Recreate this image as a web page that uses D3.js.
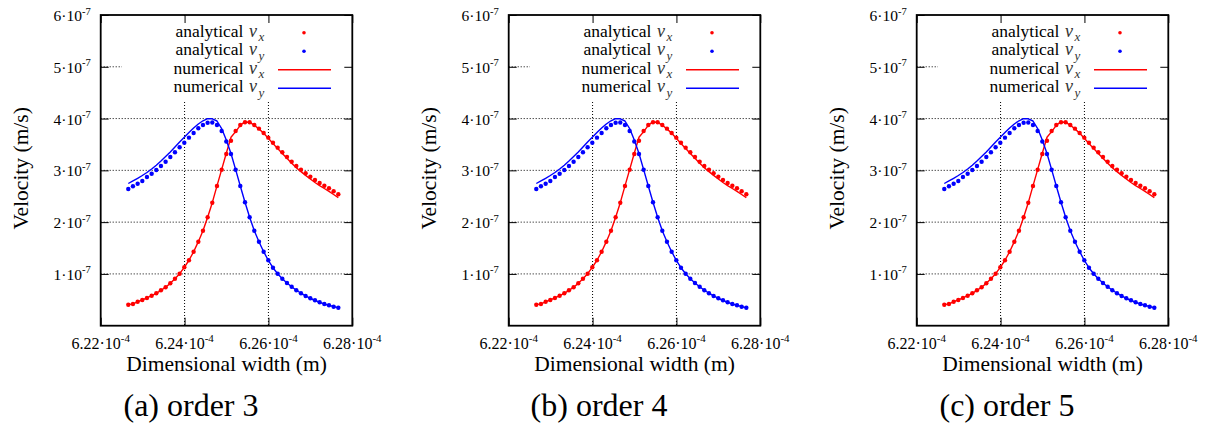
<!DOCTYPE html>
<html>
<head>
<meta charset="utf-8">
<script src="https://cdn.jsdelivr.net/npm/d3@7/dist/d3.min.js"></script>
<style>
  html, body { margin: 0; padding: 0; background: #fff; }
  svg { display: block; }
</style>
</head>
<body>
<svg id="chart" width="1205" height="425"></svg>
<script>
// ---- data (width in 1e-4 m, velocity in 1e-7 m/s) ----
const panelCaptions = ["(a) order 3", "(b) order 4", "(c) order 5"];
const xTicks = [6.22, 6.24, 6.26, 6.28];
const xTickLabels = ["6.22", "6.24", "6.26", "6.28"];
const xTickExp = "-4";
const yTicks = [1, 2, 3, 4, 5, 6];
const yTickLabels = ["1", "2", "3", "4", "5", "6"];
const yTickExp = "-7";
const legendLabels = ["analytical", "analytical", "numerical", "numerical"];
const legendSubs = ["x", "y", "x", "y"];

const width = [6.22658, 6.22769, 6.22881, 6.22992, 6.23103, 6.23215, 6.23326, 6.23437, 6.23548, 6.23660,
  6.23771, 6.23882, 6.23994, 6.24105, 6.24216, 6.24328, 6.24439, 6.24550, 6.24661, 6.24773,
  6.24884, 6.24995, 6.25107, 6.25218, 6.25329, 6.25441, 6.25552, 6.25663, 6.25774, 6.25886,
  6.25997, 6.26108, 6.26220, 6.26331, 6.26442, 6.26554, 6.26665, 6.26776, 6.26887, 6.26999,
  6.27110, 6.27221, 6.27333, 6.27444, 6.27555, 6.27667];

const analyticalVx = [0.406, 0.419, 0.463, 0.496, 0.535, 0.579, 0.626, 0.684, 0.742, 0.819,
  0.908, 1.004, 1.128, 1.263, 1.429, 1.622, 1.835, 2.093, 2.375, 2.698,
  3.013, 3.316, 3.573, 3.760, 3.876, 3.928, 3.928, 3.876, 3.805, 3.722,
  3.631, 3.534, 3.438, 3.349, 3.258, 3.167, 3.084, 3.013, 2.943, 2.877,
  2.814, 2.756, 2.704, 2.654, 2.596, 2.538];

const analyticalVy = [2.640, 2.692, 2.742, 2.795, 2.872, 2.935, 3.007, 3.084, 3.167, 3.258,
  3.349, 3.445, 3.534, 3.631, 3.722, 3.812, 3.876, 3.920, 3.924, 3.876,
  3.760, 3.557, 3.316, 3.013, 2.698, 2.383, 2.093, 1.835, 1.622, 1.429,
  1.263, 1.120, 1.004, 0.908, 0.825, 0.753, 0.684, 0.626, 0.574, 0.529,
  0.491, 0.452, 0.419, 0.394, 0.367, 0.348];

const numericalVx = [0.406, 0.421, 0.462, 0.497, 0.535, 0.580, 0.626, 0.683, 0.743, 0.818,
  0.908, 1.005, 1.127, 1.264, 1.428, 1.623, 1.834, 2.094, 2.376, 2.700,
  3.015, 3.330, 3.638, 3.747, 3.870, 3.935, 3.930, 3.870, 3.801, 3.715,
  3.620, 3.519, 3.420, 3.327, 3.232, 3.138, 3.051, 2.976, 2.903, 2.833,
  2.766, 2.705, 2.649, 2.595, 2.534, 2.472];

const numericalVy = [2.746, 2.795, 2.847, 2.901, 2.959, 3.026, 3.100, 3.181, 3.266, 3.355,
  3.451, 3.548, 3.638, 3.729, 3.818, 3.895, 3.957, 3.998, 3.996, 3.953,
  3.808, 3.586, 3.326, 3.013, 2.698, 2.383, 2.093, 1.835, 1.622, 1.429,
  1.263, 1.120, 1.004, 0.908, 0.825, 0.753, 0.684, 0.626, 0.574, 0.529,
  0.491, 0.452, 0.419, 0.394, 0.367, 0.348];

const RED = "#ff0000", BLUE = "#0000ff";
const SERIF = `"Liberation Serif"`;

// ---- layout ----
const panelOffsets = [0, 408, 816];
const plotLeft = 100.7, plotRight = 352.3, plotTop = 15, plotBottom = 325.7;

const svg = d3.select("#chart");

function txt(g) {
  return g.append("text").attr("font-family", SERIF).attr("fill", "#000");
}

panelOffsets.forEach((ox, pi) => {
  const g = svg.append("g").attr("transform", `translate(${ox},0)`);
  const x = d3.scaleLinear().domain([6.22, 6.28]).range([plotLeft, plotRight]);
  const y = d3.scaleLinear().domain([0, 6]).range([plotBottom, plotTop]);

  // grid
  const grid = g.append("g").attr("stroke", "#000").attr("stroke-width", 1)
    .attr("stroke-dasharray", "1,2").attr("fill", "none");
  xTicks.slice(1, -1).forEach(t => {
    grid.append("line").attr("x1", x(t)).attr("x2", x(t)).attr("y1", plotTop).attr("y2", plotBottom);
  });
  yTicks.slice(0, -1).forEach(t => {
    grid.append("line").attr("x1", plotLeft).attr("x2", plotRight).attr("y1", y(t)).attr("y2", y(t));
  });

  // opaque key box
  g.append("rect").attr("x", 122).attr("y", plotTop + 1).attr("width", plotRight - 1 - 122)
    .attr("height", 85).attr("fill", "#fff");

  // lines
  const pts = (arr) => width.map((w, i) => [w, arr[i]]);
  const line = d3.line().x(d => x(d[0])).y(d => y(d[1]));
  [[numericalVx, RED], [numericalVy, BLUE]].forEach(([arr, c]) => {
    g.append("path").attr("d", line(pts(arr))).attr("fill", "none")
      .attr("stroke", c).attr("stroke-width", 1.4).attr("stroke-linejoin", "round");
  });
  // dots
  [[analyticalVx, RED], [analyticalVy, BLUE]].forEach(([arr, c]) => {
    g.append("g").selectAll("circle").data(pts(arr)).join("circle")
      .attr("cx", d => x(d[0])).attr("cy", d => y(d[1])).attr("r", 2.2).attr("fill", c);
  });

  // axes with inward ticks (mirrored)
  const tk = 8;
  const fmt = () => "";
  g.append("g").attr("transform", `translate(0,${plotBottom})`)
    .call(d3.axisBottom(x).tickValues(xTicks).tickSize(-tk).tickFormat(fmt));
  g.append("g").attr("transform", `translate(0,${plotTop})`)
    .call(d3.axisTop(x).tickValues(xTicks).tickSize(-tk).tickFormat(fmt));
  g.append("g").attr("transform", `translate(${plotLeft},0)`)
    .call(d3.axisLeft(y).tickValues(yTicks).tickSize(-tk).tickFormat(fmt));
  g.append("g").attr("transform", `translate(${plotRight},0)`)
    .call(d3.axisRight(y).tickValues(yTicks).tickSize(-tk).tickFormat(fmt));
  g.selectAll(".domain").remove();
  g.selectAll(".tick line").attr("stroke", "#000").attr("stroke-width", 1);

  // border
  g.append("rect").attr("x", plotLeft).attr("y", plotTop)
    .attr("width", plotRight - plotLeft).attr("height", plotBottom - plotTop)
    .attr("fill", "none").attr("stroke", "#000").attr("stroke-width", 1.8);

  // y tick labels
  yTicks.forEach((t, i) => {
    const tx = txt(g).attr("x", plotLeft - 10).attr("y", y(t) + 6)
      .attr("text-anchor", "end").attr("font-size", 15.5);
    tx.append("tspan").text(yTickLabels[i] + "\u00b710");
    tx.append("tspan").attr("dy", -6.5).attr("font-size", 10.5).text(yTickExp);
  });
  // x tick labels
  xTicks.forEach((t, i) => {
    const tx = txt(g).attr("x", x(t)).attr("y", 348.5)
      .attr("text-anchor", "middle").attr("font-size", 16);
    tx.append("tspan").text(xTickLabels[i] + "\u00b710");
    tx.append("tspan").attr("dy", -6.5).attr("font-size", 11).text(xTickExp);
  });

  // axis titles
  txt(g).attr("x", (plotLeft + plotRight) / 2).attr("y", 371)
    .attr("text-anchor", "middle").attr("font-size", 21.5).text("Dimensional width (m)");
  txt(g).attr("transform", `translate(28,${(plotTop + plotBottom) / 2 - 2}) rotate(-90)`)
    .attr("text-anchor", "middle").attr("font-size", 21.5).text("Velocity (m/s)");

  // caption
  txt(g).attr("x", 191).attr("y", 416).attr("text-anchor", "middle")
    .attr("font-size", 32).text(panelCaptions[pi]);

  // legend
  const rows = [36.7, 55.2, 73.7, 92.2];
  rows.forEach((by, i) => {
    txt(g).attr("x", 243.5).attr("y", by).attr("text-anchor", "end")
      .attr("font-size", 17.5).text(legendLabels[i]);
    const m = txt(g).attr("x", 249).attr("y", by).attr("font-size", 18)
      .attr("font-style", "italic").attr("fill", "#333");
    m.append("tspan").text("v");
    m.append("tspan").attr("dx", 1.5).attr("dy", 4.5).attr("font-size", 13).text(legendSubs[i]);
    const cy = by - 4;
    if (i < 2) {
      g.append("circle").attr("cx", 304).attr("cy", cy).attr("r", 1.8).attr("fill", i === 0 ? RED : BLUE);
    } else {
      g.append("line").attr("x1", 278).attr("x2", 331).attr("y1", cy).attr("y2", cy)
        .attr("stroke", i === 2 ? RED : BLUE).attr("stroke-width", 1.4);
    }
  });
});
</script>
</body>
</html>
